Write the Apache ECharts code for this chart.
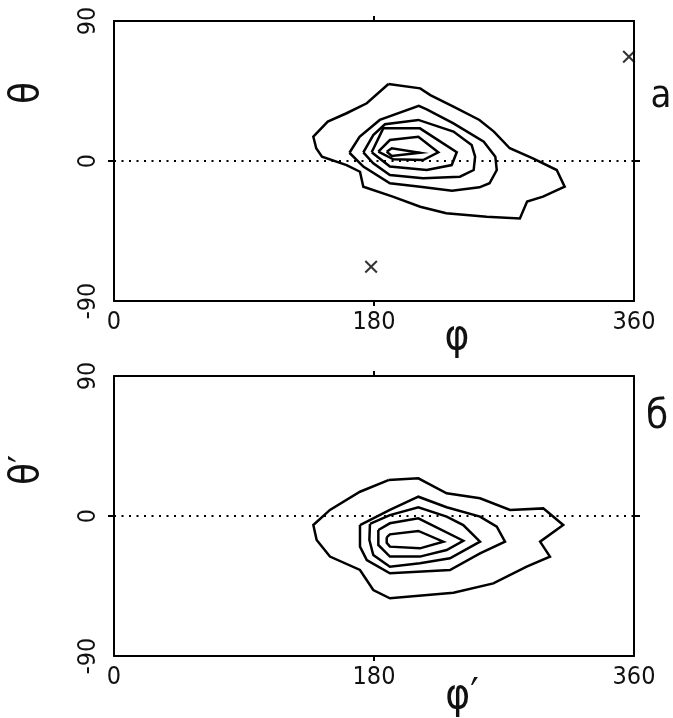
<!DOCTYPE html>
<html>
<head>
<meta charset="utf-8">
<script src="https://cdn.jsdelivr.net/npm/echarts@6/dist/echarts.min.js"></script>
<style>html,body{margin:0;padding:0;background:#fff;}#chart{width:673px;height:718px;}</style>
</head>
<body>
<div id="chart"></div>
<script>
// Tick labels
const phiTicks = [0, 180, 360];
const thetaTicks = [-90, 0, 90];

// Panel a contours [phi, theta]
const aLevel1 = [[190,49.5],[212,46.7],[219,42.4],[235,34.9],[253,26.4],[263,18.9],[274,8.2],[290,1.7],[306.5,-5.8],[312,-16.5],[297,-22.9],[286,-26.1],[281,-36.9],[258,-35.8],[230,-33.6],[212,-29.4],[193,-22.9],[172.6,-16.5],[170.3,-6.9],[161,-2.6],[144,2.8],[140,8.2],[138,15.6],[148,25.3],[161,30.7],[175,37.1],[190,49.5]];
const aLevel2 = [[163,5.3],[170,15.6],[184,26.4],[211,35.4],[216.5,33.2],[235,24.2],[256,12.4],[264,2.8],[265,-5.8],[260,-14.3],[253,-16.9],[234,-19.1],[212,-16.5],[191,-14.3],[172.6,-3.6],[163,5.3]];
const aLevel3 = [[172.6,5.6],[179.5,16.7],[187.6,23.6],[210.7,26.4],[235,18.9],[247.6,10.3],[250,2.8],[249,-5.8],[239.5,-10.1],[214,-11.1],[191,-9],[179.5,-1.5],[172.6,5.6]];
const aLevel4 = [[178.4,5.6],[186.4,21],[211.8,21],[237.3,5.6],[233.8,-2.6],[216.5,-5.8],[191,-3.6],[178.4,5.6]];
const aLevel5 = [[183,6],[191,13.5],[210.7,15.6],[224.5,5.6],[214,0.6],[193.4,1.1],[183,6]];
const aLevel6 = [[188.8,6],[192.3,8.2],[211.8,5.3],[192.3,3.2],[188.8,6]];
const aCrosses = [[178,-68],[356.5,67]];

// Panel b contours [phi', theta']
const bLevel1 = [[190,23.1],[210.7,24.2],[230.3,14.6],[253.4,11.4],[274.2,3.9],[297.2,4.9],[311,-5.8],[295,-16.5],[301.8,-26.1],[285.7,-32.6],[262.6,-43.3],[235,-49.3],[191,-52.9],[179.5,-47.6],[170.3,-34.7],[149.5,-26.1],[140.3,-15.4],[138,-5.8],[149.5,3.9],[170.3,15.6],[190,23.1]];
const bLevel2 = [[170.3,-5.8],[191,3.9],[210.7,12.4],[230.3,5.6],[253.4,-0.4],[265,-6.9],[270.7,-16.5],[253.4,-24],[232.6,-34.7],[191,-36.8],[175,-28.3],[170.3,-19.7],[170.3,-5.8]];
const bLevel3 = [[177.2,-5.1],[191,0.6],[210.7,5.6],[230.3,-0.4],[241.8,-5.8],[253.4,-16.5],[232.6,-27.2],[211.8,-30.4],[191,-32.6],[179.5,-25.1],[176.8,-15.4],[177.2,-5.1]];
const bLevel4 = [[183,-9],[191,-4.7],[210.7,-1.5],[241.8,-15.9],[230.3,-21.9],[211.8,-26.1],[191,-26.1],[183,-18.6],[183,-9]];
const bLevel5 = [[188.8,-13.7],[191,-11.8],[210.7,-9.6],[228,-16.5],[211.8,-20.8],[191,-19.7],[188.8,-17.2],[188.8,-13.7]];

const zeroLine = [[0,0],[360,0]];

const FONT = "'Liberation Sans Narrow','DejaVu Sans Condensed',sans-serif";
const INK = '#000';

function xAx(gi, pos, showLabel) {
  return {
    type: 'value', gridIndex: gi, position: pos, min: 0, max: 360, interval: 180,
    axisLine: { show: true, onZero: false, lineStyle: { color: INK, width: 2 } },
    axisTick: { show: true, inside: false, length: 5, customValues: [180], lineStyle: { color: INK, width: 2 } },
    axisLabel: { show: showLabel, margin: 9, color: '#111', fontSize: 25, fontFamily: FONT, customValues: phiTicks },
    splitLine: { show: false }
  };
}
function yAx(gi, pos, showLabel) {
  return {
    type: 'value', gridIndex: gi, position: pos, min: -90, max: 90, interval: 90,
    axisLine: { show: true, onZero: false, lineStyle: { color: INK, width: 2 } },
    axisTick: { show: true, inside: false, length: 6, customValues: [0], lineStyle: { color: INK, width: 2 } },
    axisLabel: { show: showLabel, rotate: 90, margin: 13, color: '#111', fontSize: 25, fontFamily: FONT, customValues: thetaTicks },
    splitLine: { show: false }
  };
}
function contour(data, xi, yi) {
  return { type: 'line', data: data, xAxisIndex: xi, yAxisIndex: yi, symbol: 'none', silent: true,
    lineStyle: { color: INK, width: 2.5, join: 'miter' }, z: 3 };
}
function dotted(xi, yi) {
  return { type: 'line', data: zeroLine, xAxisIndex: xi, yAxisIndex: yi, symbol: 'none', silent: true,
    lineStyle: { color: '#000', width: 2, type: [2, 5.5] }, z: 2 };
}

const chart = echarts.init(document.getElementById('chart'), null, { renderer: 'canvas' });
chart.setOption({
  backgroundColor: '#fff',
  animation: false,
  grid: [
    { left: 114, top: 21, width: 520, height: 280 },
    { left: 114, top: 376, width: 520, height: 280 }
  ],
  xAxis: [xAx(0, 'bottom', true), xAx(0, 'top', false), xAx(1, 'bottom', true), xAx(1, 'top', false)],
  yAxis: [yAx(0, 'left', true), yAx(0, 'right', false), yAx(1, 'left', true), yAx(1, 'right', false)],
  series: [
    dotted(0, 0),
    contour(aLevel1, 0, 0), contour(aLevel2, 0, 0), contour(aLevel3, 0, 0),
    contour(aLevel4, 0, 0), contour(aLevel5, 0, 0), contour(aLevel6, 0, 0),
    { type: 'scatter', data: aCrosses, xAxisIndex: 0, yAxisIndex: 0,
      symbol: 'path://M0,1.1L1.1,0L5,3.9L8.9,0L10,1.1L6.1,5L10,8.9L8.9,10L5,6.1L1.1,10L0,8.9L3.9,5Z',
      symbolSize: 13, silent: true, itemStyle: { color: INK } },
    dotted(2, 2),
    contour(bLevel1, 2, 2), contour(bLevel2, 2, 2), contour(bLevel3, 2, 2),
    contour(bLevel4, 2, 2), contour(bLevel5, 2, 2)
  ],
  graphic: [
    { type: 'text', x: 28, y: 93, rotation: Math.PI / 2, style: { text: 'θ', fontSize: 40, fontFamily: FONT, fill: '#111', align: 'center', verticalAlign: 'middle' } },
    { type: 'text', x: 28, y: 470, rotation: Math.PI / 2, style: { text: 'θ′', fontSize: 40, fontFamily: FONT, fill: '#111', align: 'center', verticalAlign: 'middle' } },
    { type: 'text', x: 457, y: 338, style: { text: 'φ', fontSize: 42, fontFamily: FONT, fill: '#111', align: 'center', verticalAlign: 'middle' } },
    { type: 'text', x: 462, y: 697, style: { text: 'φ′', fontSize: 42, fontFamily: FONT, fill: '#111', align: 'center', verticalAlign: 'middle' } },
    { type: 'text', x: 661, y: 97, style: { text: 'a', fontSize: 38, fontFamily: FONT, fill: '#111', align: 'center', verticalAlign: 'middle' } },
    { type: 'text', x: 657, y: 418, style: { text: 'б', fontSize: 40, fontFamily: FONT, fill: '#111', align: 'center', verticalAlign: 'middle' } }
  ]
});
</script>
</body>
</html>
